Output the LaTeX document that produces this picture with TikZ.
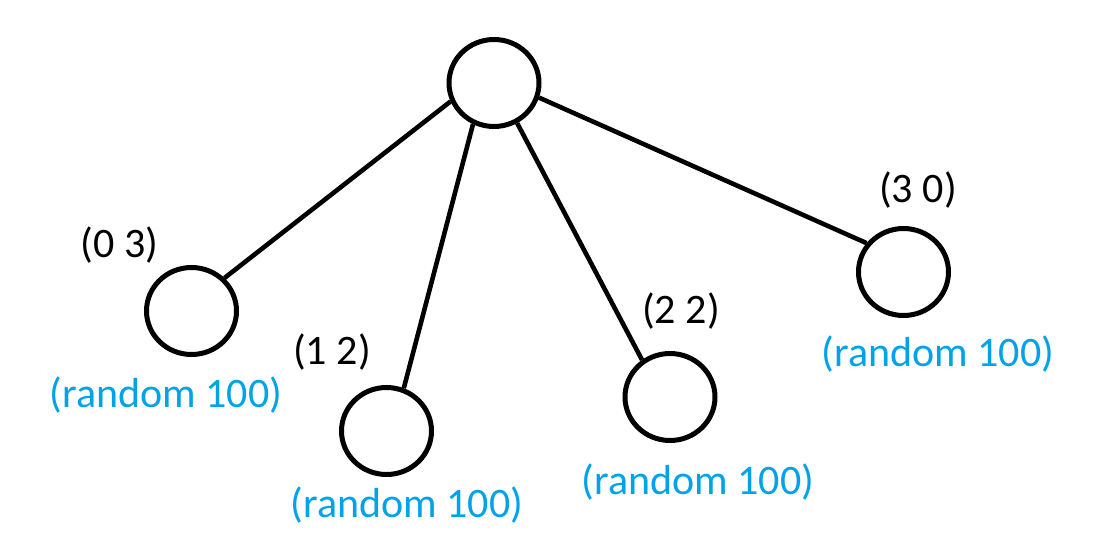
\documentclass[tikz,border=0pt]{standalone}
\usepackage{fontspec}
\setmainfont{Carlito}
\usetikzlibrary{shapes.geometric}
\definecolor{paintblue}{HTML}{00A2E8}
\tikzset{
  treenode/.style={draw=black, line width=5pt, ellipse, minimum width=90pt, minimum height=87pt, inner sep=0pt},
  edge/.style={draw=black, line width=4.6pt},
  pairlabel/.style={font=\fontsize{42}{46}\selectfont, text=black, inner sep=0pt, anchor=center},
  randlabel/.style={font=\fontsize{42}{46}\selectfont, text=paintblue, inner sep=0pt, anchor=center}
}
\begin{document}
\begin{tikzpicture}[x=1pt,y=-1pt]
\useasboundingbox (0,0) rectangle (1103,556);
\node[treenode] (root) at (494,83) {};
\node[treenode] (c0) at (191.5,311) {};
\node[treenode] (c1) at (386.5,431) {};
\node[treenode] (c2) at (670,397) {};
\node[treenode] (c3) at (903.5,272) {};
\draw[edge] (root.203) -- (c0.45);
\draw[edge] (root.243) -- (c1.68);
\draw[edge] (root.300) -- (c2.127);
\draw[edge] (root.342) -- (c3.142);
\node[pairlabel] (l0) at (119.5,245) {(0 3)};
\node[pairlabel] (l1) at (332,352.5) {(1 2)};
\node[pairlabel] (l2) at (681,311) {(2 2)};
\node[pairlabel] (l3) at (918,190) {(3 0)};
\node[randlabel] (r0) at (166,395) {(random 100)};
\node[randlabel] (r1) at (407,505.5) {(random 100)};
\node[randlabel] (r2) at (698,482.5) {(random 100)};
\node[randlabel] (r3) at (938,354.5) {(random 100)};
\end{tikzpicture}
\end{document}
